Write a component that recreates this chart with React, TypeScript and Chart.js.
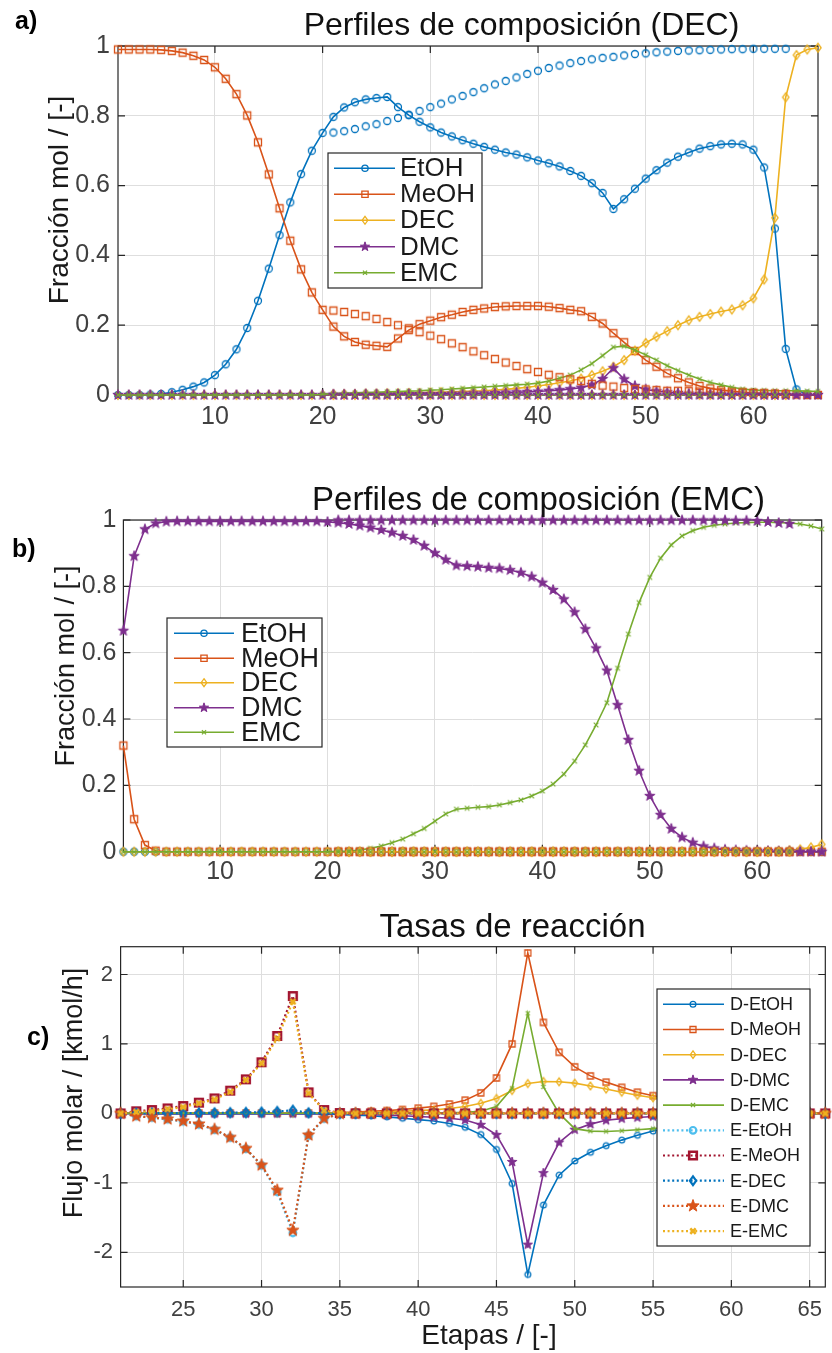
import React, { useEffect, useRef } from 'react';
import { Chart, registerables } from 'chart.js';

Chart.register(...registerables);

const FONT = '"Liberation Sans", Arial, Helvetica, sans-serif';
const PAGE_W = 832;
const PAGE_H = 1353;

const C_BLUE = '#0072BD';
const C_ORANGE = '#D95319';
const C_YELLOW = '#EDB120';
const C_PURPLE = '#7E2F8E';
const C_GREEN = '#77AC30';
const C_LIGHTBLUE = '#4DBEEE';
const C_DARKRED = '#A2142F';

// ---------------- categories / ticks ----------------
const STAGES = [
  1, 2, 3, 4, 5, 6, 7, 8, 9, 10, 11, 12, 13, 14, 15, 16, 17, 18, 19, 20,
  21, 22, 23, 24, 25, 26, 27, 28, 29, 30, 31, 32, 33, 34, 35, 36, 37, 38, 39, 40,
  41, 42, 43, 44, 45, 46, 47, 48, 49, 50, 51, 52, 53, 54, 55, 56, 57, 58, 59, 60,
  61, 62, 63, 64, 65, 66,
];
const STAGES_SIDE = [
  21, 22, 23, 24, 25, 26, 27, 28, 29, 30, 31, 32, 33, 34, 35, 36, 37, 38, 39, 40,
  41, 42, 43, 44, 45, 46, 47, 48, 49, 50, 51, 52, 53, 54, 55, 56, 57, 58, 59, 60,
  61, 62, 63,
];
const STAGES_RATE = [
  21, 22, 23, 24, 25, 26, 27, 28, 29, 30, 31, 32, 33, 34, 35, 36, 37, 38, 39, 40,
  41, 42, 43, 44, 45, 46, 47, 48, 49, 50, 51, 52, 53, 54, 55, 56, 57, 58, 59, 60,
  61, 62, 63, 64, 65, 66,
];
const COMPONENTS = ['EtOH', 'MeOH', 'DEC', 'DMC', 'EMC'];
const RATE_LABELS = ['D-EtOH', 'D-MeOH', 'D-DEC', 'D-DMC', 'D-EMC', 'E-EtOH', 'E-MeOH', 'E-DEC', 'E-DMC', 'E-EMC'];
const X_TICKS_AB = [10, 20, 30, 40, 50, 60];
const Y_TICKS_AB = [0, 0.2, 0.4, 0.6, 0.8, 1];
const X_TICKS_C = [25, 30, 35, 40, 45, 50, 55, 60, 65];
const Y_TICKS_C = [-2, -1, 0, 1, 2];

// ---------------- panel a: DEC column ----------------
const A_ETOH = [
  0, 0, 0, 0.001, 0.003, 0.008, 0.015, 0.024, 0.036, 0.057,
  0.088, 0.131, 0.192, 0.27, 0.362, 0.458, 0.552, 0.633, 0.7, 0.751,
  0.797, 0.824, 0.839, 0.847, 0.851, 0.854, 0.825, 0.802, 0.783, 0.767,
  0.752, 0.741, 0.73, 0.72, 0.711, 0.703, 0.695, 0.689, 0.681, 0.672,
  0.664, 0.655, 0.642, 0.628, 0.607, 0.579, 0.533, 0.561, 0.591, 0.62,
  0.644, 0.666, 0.683, 0.695, 0.706, 0.713, 0.718, 0.72, 0.718, 0.703,
  0.652, 0.477, 0.132, 0.016, 0.001, 0,
];
const A_MEOH = [
  0.99, 0.99, 0.99, 0.99, 0.989, 0.986, 0.981, 0.972, 0.96, 0.939,
  0.906, 0.862, 0.801, 0.724, 0.632, 0.535, 0.442, 0.36, 0.294, 0.244,
  0.196, 0.168, 0.152, 0.144, 0.141, 0.138, 0.162, 0.186, 0.203, 0.213,
  0.223, 0.23, 0.238, 0.244, 0.248, 0.252, 0.254, 0.255, 0.255, 0.255,
  0.253, 0.249, 0.244, 0.24, 0.224, 0.205, 0.177, 0.151, 0.126, 0.1,
  0.081, 0.062, 0.048, 0.036, 0.026, 0.019, 0.014, 0.011, 0.008, 0.006,
  0.004, 0.003, 0.002, 0.001, 0, 0,
];
const A_DEC = [
  0, 0, 0, 0, 0, 0, 0, 0, 0, 0,
  0, 0, 0, 0, 0, 0, 0, 0, 0, 0,
  0.002, 0.003, 0.003, 0.004, 0.004, 0.005, 0.005, 0.006, 0.006, 0.007,
  0.008, 0.009, 0.01, 0.011, 0.012, 0.014, 0.016, 0.019, 0.022, 0.026,
  0.03, 0.035, 0.04, 0.047, 0.057, 0.068, 0.081, 0.1, 0.127, 0.149,
  0.167, 0.183, 0.2, 0.214, 0.224, 0.232, 0.239, 0.245, 0.257, 0.277,
  0.331, 0.508, 0.853, 0.974, 0.99, 0.995,
];
const A_DMC = [
  0, 0, 0, 0, 0, 0, 0, 0, 0, 0,
  0, 0, 0, 0, 0, 0, 0, 0, 0, 0,
  0.001, 0.001, 0.001, 0.002, 0.002, 0.002, 0.002, 0.003, 0.003, 0.003,
  0.003, 0.004, 0.004, 0.005, 0.005, 0.006, 0.007, 0.008, 0.009, 0.01,
  0.012, 0.014, 0.017, 0.021, 0.029, 0.046, 0.077, 0.045, 0.026, 0.016,
  0.011, 0.008, 0.006, 0.004, 0.003, 0.002, 0.002, 0.001, 0.001, 0.001,
  0.001, 0, 0, 0, 0, 0,
];
const A_EMC = [
  0, 0, 0, 0, 0, 0, 0, 0, 0, 0,
  0, 0, 0, 0, 0, 0, 0, 0, 0, 0.002,
  0.004, 0.005, 0.006, 0.007, 0.008, 0.009, 0.01, 0.011, 0.012, 0.014,
  0.015, 0.017, 0.019, 0.021, 0.023, 0.025, 0.027, 0.029, 0.031, 0.034,
  0.04, 0.048, 0.057, 0.072, 0.09, 0.113, 0.137, 0.14, 0.129, 0.115,
  0.1, 0.084, 0.07, 0.057, 0.046, 0.036, 0.029, 0.022, 0.017, 0.014,
  0.013, 0.012, 0.012, 0.012, 0.011, 0.01,
];
// marker-only profiles (stages 21-63)
const A_ETOH_S = [
  0.752, 0.756, 0.762, 0.77, 0.776, 0.785, 0.794, 0.803, 0.814, 0.825,
  0.835, 0.847, 0.857, 0.868, 0.879, 0.89, 0.9, 0.91, 0.92, 0.929,
  0.937, 0.944, 0.951, 0.957, 0.962, 0.966, 0.969, 0.973, 0.977, 0.979,
  0.982, 0.984, 0.986, 0.987, 0.988, 0.989, 0.99, 0.991, 0.991, 0.992,
  0.992, 0.992, 0.992,
];
const A_MEOH_S = [
  0.242, 0.238, 0.232, 0.226, 0.218, 0.209, 0.2, 0.191, 0.18, 0.17,
  0.16, 0.148, 0.137, 0.125, 0.114, 0.103, 0.093, 0.083, 0.074, 0.066,
  0.058, 0.051, 0.045, 0.04, 0.032, 0.027, 0.024, 0.02, 0.017, 0.016,
  0.014, 0.012, 0.012, 0.011, 0.01, 0.009, 0.008, 0.007, 0.007, 0.006,
  0.005, 0.004, 0.003,
];
const A_DEC_S = [
  0, 0, 0, 0, 0, 0, 0, 0, 0, 0,
  0, 0, 0, 0, 0, 0, 0, 0, 0, 0,
  0, 0, 0, 0, 0, 0, 0, 0, 0, 0,
  0, 0, 0, 0, 0, 0, 0, 0, 0, 0,
  0, 0, 0,
];
const A_DMC_S = [
  0, 0, 0, 0, 0, 0, 0, 0, 0, 0,
  0, 0, 0, 0, 0, 0, 0, 0, 0, 0,
  0, 0, 0, 0, 0, 0, 0, 0, 0, 0,
  0, 0, 0, 0, 0, 0, 0, 0, 0, 0,
  0, 0, 0,
];
const A_EMC_S = [
  0, 0, 0, 0, 0, 0, 0, 0, 0, 0,
  0, 0, 0, 0, 0, 0, 0, 0, 0, 0,
  0, 0, 0, 0, 0, 0, 0, 0, 0, 0,
  0, 0, 0, 0, 0, 0, 0, 0, 0, 0,
  0, 0, 0,
];

// ---------------- panel b: EMC column ----------------
const B_ETOH = [
  0, 0, 0, 0, 0, 0, 0, 0, 0, 0,
  0, 0, 0, 0, 0, 0, 0, 0, 0, 0,
  0, 0, 0, 0, 0, 0, 0, 0, 0, 0,
  0, 0, 0, 0, 0, 0, 0, 0, 0, 0,
  0, 0, 0, 0, 0, 0, 0, 0, 0, 0,
  0, 0, 0, 0, 0, 0, 0, 0, 0, 0,
  0, 0, 0, 0, 0, 0,
];
const B_MEOH = [
  0.32, 0.098, 0.02, 0.003, 0, 0, 0, 0, 0, 0,
  0, 0, 0, 0, 0, 0, 0, 0, 0, 0,
  0, 0, 0, 0, 0, 0, 0, 0, 0, 0,
  0, 0, 0, 0, 0, 0, 0, 0, 0, 0,
  0, 0, 0, 0, 0, 0, 0, 0, 0, 0,
  0, 0, 0, 0, 0, 0, 0, 0, 0, 0,
  0, 0, 0, 0, 0, 0,
];
const B_DEC = [
  0, 0, 0, 0, 0, 0, 0, 0, 0, 0,
  0, 0, 0, 0, 0, 0, 0, 0, 0, 0,
  0, 0, 0, 0, 0, 0, 0, 0, 0, 0,
  0, 0, 0, 0, 0, 0, 0, 0, 0, 0,
  0, 0, 0, 0, 0, 0, 0, 0, 0, 0,
  0, 0, 0, 0, 0, 0, 0, 0, 0, 0,
  0.001, 0.002, 0.004, 0.007, 0.013, 0.022,
];
const B_DMC = [
  0.666, 0.891, 0.972, 0.99, 0.995, 0.996, 0.996, 0.996, 0.996, 0.996,
  0.996, 0.996, 0.996, 0.996, 0.996, 0.996, 0.996, 0.996, 0.996, 0.994,
  0.992, 0.988, 0.983, 0.977, 0.97, 0.962, 0.952, 0.94, 0.922, 0.9,
  0.88, 0.863, 0.861, 0.859, 0.856, 0.854, 0.849, 0.841, 0.829, 0.811,
  0.789, 0.761, 0.722, 0.671, 0.613, 0.546, 0.442, 0.337, 0.244, 0.168,
  0.111, 0.069, 0.043, 0.027, 0.016, 0.01, 0.006, 0.004, 0.003, 0.002,
  0.002, 0.001, 0.001, 0, 0, 0,
];
const B_EMC = [
  0, 0, 0, 0, 0, 0, 0, 0, 0, 0,
  0, 0, 0, 0, 0, 0, 0, 0, 0, 0,
  0.001, 0.002, 0.005, 0.01, 0.017, 0.027, 0.038, 0.054, 0.07, 0.092,
  0.114, 0.128, 0.131, 0.134, 0.136, 0.141, 0.148, 0.156, 0.168, 0.183,
  0.204, 0.234, 0.273, 0.322, 0.382, 0.449, 0.553, 0.656, 0.751, 0.827,
  0.885, 0.925, 0.952, 0.968, 0.978, 0.984, 0.988, 0.991, 0.992, 0.993,
  0.993, 0.992, 0.991, 0.988, 0.982, 0.973,
];
const B_ETOH_S = [
  0, 0, 0, 0, 0, 0, 0, 0, 0, 0,
  0, 0, 0, 0, 0, 0, 0, 0, 0, 0,
  0, 0, 0, 0, 0, 0, 0, 0, 0, 0,
  0, 0, 0, 0, 0, 0, 0, 0, 0, 0,
  0, 0, 0,
];
const B_MEOH_S = [
  0, 0, 0, 0, 0, 0, 0, 0, 0, 0,
  0, 0, 0, 0, 0, 0, 0, 0, 0, 0,
  0, 0, 0, 0, 0, 0, 0, 0, 0, 0,
  0, 0, 0, 0, 0, 0, 0, 0, 0, 0,
  0, 0, 0,
];
const B_DEC_S = [
  0, 0, 0, 0, 0, 0, 0, 0, 0, 0,
  0, 0, 0, 0, 0, 0, 0, 0, 0, 0,
  0, 0, 0, 0, 0, 0, 0, 0, 0, 0,
  0, 0, 0, 0, 0, 0, 0, 0, 0, 0,
  0, 0, 0,
];
const B_DMC_S = [
  0.999, 0.999, 0.999, 0.999, 0.999, 0.999, 0.999, 0.999, 0.999, 0.999,
  0.999, 0.999, 0.999, 0.999, 0.999, 0.999, 0.999, 0.999, 0.999, 0.999,
  0.999, 0.999, 0.999, 0.999, 0.999, 0.999, 0.999, 0.999, 0.999, 0.999,
  0.999, 0.999, 0.999, 0.999, 0.999, 0.999, 0.999, 0.998, 0.998, 0.997,
  0.994, 0.991, 0.988,
];
const B_EMC_S = [
  0, 0, 0, 0, 0, 0, 0, 0, 0, 0,
  0, 0, 0, 0, 0, 0, 0, 0, 0, 0,
  0, 0, 0, 0, 0, 0, 0, 0, 0, 0,
  0, 0, 0, 0, 0, 0, 0, 0, 0, 0,
  0, 0, 0,
];

// ---------------- panel c: reaction rates (stages 21-66) ----------------
const C_D_ETOH = [
  0, -0.005, -0.008, -0.01, -0.01, -0.01, -0.01, -0.01, -0.01, -0.01,
  -0.01, -0.01, -0.01, -0.01, -0.015, -0.025, -0.035, -0.05, -0.07, -0.09,
  -0.11, -0.145, -0.2, -0.305, -0.52, -1.01, -2.32, -1.32, -0.89, -0.685,
  -0.56, -0.465, -0.385, -0.315, -0.255, -0.21, -0.17, -0.135, -0.1, -0.07,
  -0.045, -0.025, -0.01, 0, 0, 0,
];
const C_D_MEOH = [
  0, 0.005, 0.005, 0.005, 0.005, 0.005, 0.005, 0.005, 0.005, 0.005,
  0.005, 0.005, 0.005, 0.005, 0.015, 0.02, 0.03, 0.04, 0.055, 0.075,
  0.1, 0.135, 0.19, 0.295, 0.51, 1.0, 2.31, 1.31, 0.88, 0.67,
  0.54, 0.45, 0.375, 0.305, 0.255, 0.21, 0.17, 0.135, 0.1, 0.07,
  0.045, 0.025, 0.01, 0, 0, 0,
];
const C_D_DEC = [
  0, 0.003, 0.003, 0.003, 0.003, 0.003, 0.003, 0.003, 0.003, 0.003,
  0.003, 0.003, 0.003, 0.003, 0.005, 0.01, 0.015, 0.02, 0.03, 0.04,
  0.05, 0.07, 0.1, 0.145, 0.215, 0.33, 0.43, 0.46, 0.455, 0.435,
  0.395, 0.35, 0.305, 0.26, 0.225, 0.19, 0.155, 0.125, 0.095, 0.07,
  0.045, 0.025, 0.01, 0, 0, 0,
];
const C_D_DMC = [
  0, -0.003, -0.003, -0.003, -0.003, -0.003, -0.003, -0.003, -0.003, -0.003,
  -0.003, -0.003, -0.003, -0.003, -0.005, -0.01, -0.015, -0.025, -0.035, -0.045,
  -0.055, -0.07, -0.095, -0.165, -0.31, -0.7, -1.89, -0.86, -0.42, -0.235,
  -0.155, -0.1, -0.075, -0.06, -0.045, -0.035, -0.028, -0.02, -0.015, -0.01,
  -0.007, -0.004, -0.002, 0, 0, 0,
];
const C_D_EMC = [
  0, 0.002, 0.002, 0.002, 0.002, 0.002, 0.002, 0.002, 0.002, 0.002,
  0.002, 0.002, 0.002, 0.002, 0.002, 0.003, 0.004, 0.005, 0.006, 0.007,
  0.008, 0.01, 0.015, 0.03, 0.1, 0.36, 1.44, 0.38, 0, -0.22,
  -0.255, -0.26, -0.25, -0.235, -0.22, -0.2, -0.17, -0.14, -0.11, -0.08,
  -0.05, -0.03, -0.01, 0, 0, 0,
];
const C_E_ETOH = [
  0, -0.04, -0.06, -0.085, -0.115, -0.16, -0.235, -0.35, -0.51, -0.75,
  -1.13, -1.72, -0.32, -0.075, -0.01, 0, 0, 0, 0, 0,
  0, 0, 0, 0, 0, 0, 0, 0, 0, 0,
  0, 0, 0, 0, 0, 0, 0, 0, 0, 0,
  0, 0, 0, 0, 0, 0,
];
const C_E_MEOH = [
  0, 0.03, 0.048, 0.072, 0.106, 0.154, 0.216, 0.327, 0.49, 0.736,
  1.115, 1.69, 0.303, 0.048, 0.005, 0, 0, 0, 0, 0,
  0, 0, 0, 0, 0, 0, 0, 0, 0, 0,
  0, 0, 0, 0, 0, 0, 0, 0, 0, 0,
  0, 0, 0, 0, 0, 0,
];
const C_E_DEC = [
  0, 0.002, 0.003, 0.004, 0.005, 0.006, 0.008, 0.01, 0.013, 0.018,
  0.027, 0.045, 0.008, 0.002, 0, 0, 0, 0, 0, 0,
  0, 0, 0, 0, 0, 0, 0, 0, 0, 0,
  0, 0, 0, 0, 0, 0, 0, 0, 0, 0,
  0, 0, 0, 0, 0, 0,
];
const C_E_DMC = [
  0, -0.04, -0.06, -0.082, -0.111, -0.154, -0.231, -0.346, -0.505, -0.746,
  -1.107, -1.684, -0.313, -0.072, -0.005, 0, 0, 0, 0, 0,
  0, 0, 0, 0, 0, 0, 0, 0, 0, 0,
  0, 0, 0, 0, 0, 0, 0, 0, 0, 0,
  0, 0, 0, 0, 0, 0,
];
const C_E_EMC = [
  0, 0.02, 0.03, 0.06, 0.09, 0.145, 0.2, 0.31, 0.48, 0.72,
  1.08, 1.61, 0.29, 0.04, 0.005, 0, 0, 0, 0, 0,
  0, 0, 0, 0, 0, 0, 0, 0, 0, 0,
  0, 0, 0, 0, 0, 0, 0, 0, 0, 0,
  0, 0, 0, 0, 0, 0,
];

// ---------------- styling types ----------------
type MKind = 'o' | 's' | 'd' | 'p' | 'x';
type MSpec = { kind: MKind; size: number; lw: number; fill: boolean };
type LineKind = 'solid' | 'dot' | 'none';
type SeriesDef = {
  label: string;
  xs: number[];
  ys: number[];
  color: string;
  marker: MSpec;
  line: LineKind;
  lw: number;
  inLegend: boolean;
};
type TextDef = { text: string; x: number; y: number; size: number };
type LegendDef = {
  box: [number, number, number, number];
  rows: number[];
  line: [number, number];
  markerX: number;
  textX: number;
  font: number;
  markerScale: number;
};
type Panel = {
  key: string;
  canvasTop: number;
  canvasH: number;
  area: { l: number; r: number; t: number; b: number };
  xMin: number;
  xMax: number;
  yMin: number;
  yMax: number;
  xTicks: number[];
  yTicks: number[];
  yFmt: (v: number) => string;
  tickFont: number;
  xPad: number;
  yPad: number;
  title: TextDef;
  yLabel: TextDef;
  xLabel?: TextDef;
  tag: TextDef;
  series: SeriesDef[];
  legend: LegendDef;
};

const DOT = [2, 2.6];

const M_AB: MSpec[] = [
  { kind: 'o', size: 3.5, lw: 1.3, fill: false },
  { kind: 's', size: 3.5, lw: 1.3, fill: false },
  { kind: 'd', size: 4.4, lw: 1.3, fill: false },
  { kind: 'p', size: 5.4, lw: 1, fill: true },
  { kind: 'x', size: 2.3, lw: 1.2, fill: false },
];
const M_CD: MSpec[] = [
  { kind: 'o', size: 2.9, lw: 1.3, fill: false },
  { kind: 's', size: 3.0, lw: 1.3, fill: false },
  { kind: 'd', size: 3.8, lw: 1.3, fill: false },
  { kind: 'p', size: 5.0, lw: 1, fill: true },
  { kind: 'x', size: 2.1, lw: 1.2, fill: false },
];
const M_CE: MSpec[] = [
  { kind: 'o', size: 3.3, lw: 2.2, fill: false },
  { kind: 's', size: 3.8, lw: 2.6, fill: false },
  { kind: 'd', size: 4.4, lw: 2.2, fill: false },
  { kind: 'p', size: 6.4, lw: 1, fill: true },
  { kind: 'x', size: 2.7, lw: 2.6, fill: false },
];

const COLORS_AB = [C_BLUE, C_ORANGE, C_YELLOW, C_PURPLE, C_GREEN];
const COLORS_E = [C_LIGHTBLUE, C_DARKRED, C_BLUE, C_ORANGE, C_YELLOW];

function buildProfileSeries(solid: number[][], side: number[][]): SeriesDef[] {
  const out: SeriesDef[] = [];
  solid.forEach((ys, i) =>
    out.push({ label: COMPONENTS[i], xs: STAGES, ys, color: COLORS_AB[i], marker: M_AB[i], line: 'solid', lw: 1.6, inLegend: true })
  );
  side.forEach((ys, i) =>
    out.push({ label: COMPONENTS[i] + ' (2)', xs: STAGES_SIDE, ys, color: COLORS_AB[i], marker: M_AB[i], line: 'none', lw: 1.6, inLegend: false })
  );
  return out;
}

function buildRateSeries(): SeriesDef[] {
  const dVals = [C_D_ETOH, C_D_MEOH, C_D_DEC, C_D_DMC, C_D_EMC];
  const eVals = [C_E_ETOH, C_E_MEOH, C_E_DEC, C_E_DMC, C_E_EMC];
  const out: SeriesDef[] = [];
  dVals.forEach((ys, i) =>
    out.push({ label: RATE_LABELS[i], xs: STAGES_RATE, ys, color: COLORS_AB[i], marker: M_CD[i], line: 'solid', lw: 1.6, inLegend: true })
  );
  eVals.forEach((ys, i) =>
    out.push({ label: RATE_LABELS[5 + i], xs: STAGES_RATE, ys, color: COLORS_E[i], marker: M_CE[i], line: 'dot', lw: 2.2, inLegend: true })
  );
  return out;
}

const fmtFrac = (v: number) => (v === 0 ? '0' : v === 1 ? '1' : v.toFixed(1));

const PANELS: Panel[] = [
  {
    key: 'a',
    canvasTop: 0,
    canvasH: 460,
    area: { l: 118, r: 818, t: 46, b: 395 },
    xMin: 1, xMax: 66, yMin: 0, yMax: 1,
    xTicks: X_TICKS_AB, yTicks: Y_TICKS_AB, yFmt: fmtFrac,
    tickFont: 25, xPad: 7, yPad: 8,
    title: { text: 'Perfiles de composición (DEC)', x: 521.5, y: 35, size: 32 },
    yLabel: { text: 'Fracción mol / [-]', x: 68, y: 200, size: 28 },
    tag: { text: 'a)', x: 15, y: 29, size: 25 },
    series: buildProfileSeries([A_ETOH, A_MEOH, A_DEC, A_DMC, A_EMC], [A_ETOH_S, A_MEOH_S, A_DEC_S, A_DMC_S, A_EMC_S]),
    legend: {
      box: [328, 153, 154, 135],
      rows: [168.3, 194.3, 220.3, 246.7, 272.7],
      line: [334, 395], markerX: 365, textX: 400, font: 26, markerScale: 0.9,
    },
  },
  {
    key: 'b',
    canvasTop: 470,
    canvasH: 420,
    area: { l: 123.4, r: 821.7, t: 520, b: 851.7 },
    xMin: 1, xMax: 66, yMin: 0, yMax: 1,
    xTicks: X_TICKS_AB, yTicks: Y_TICKS_AB, yFmt: fmtFrac,
    tickFont: 25, xPad: 5, yPad: 7,
    title: { text: 'Perfiles de composición (EMC)', x: 538.5, y: 510, size: 33 },
    yLabel: { text: 'Fracción mol / [-]', x: 73.5, y: 666, size: 27 },
    tag: { text: 'b)', x: 12, y: 557, size: 25 },
    series: buildProfileSeries([B_ETOH, B_MEOH, B_DEC, B_DMC, B_EMC], [B_ETOH_S, B_MEOH_S, B_DEC_S, B_DMC_S, B_EMC_S]),
    legend: {
      box: [167, 618, 155, 129],
      rows: [633.3, 658.3, 682.7, 707.7, 732.3],
      line: [174, 234], markerX: 204, textX: 241, font: 27, markerScale: 0.9,
    },
  },
  {
    key: 'c',
    canvasTop: 890,
    canvasH: 463,
    area: { l: 120.6, r: 830, t: 946.7, b: 1287 },
    xMin: 21, xMax: 66, yMin: -2.5, yMax: 2.4,
    xTicks: X_TICKS_C, yTicks: Y_TICKS_C, yFmt: (v: number) => String(v),
    tickFont: 22, xPad: 10, yPad: 7.5,
    title: { text: 'Tasas de reacción', x: 512.5, y: 937, size: 33 },
    yLabel: { text: 'Flujo molar / [kmol/h]', x: 81.5, y: 1093, size: 27 },
    xLabel: { text: 'Etapas / [-]', x: 489, y: 1344, size: 28 },
    tag: { text: 'c)', x: 27, y: 1045, size: 25 },
    series: buildRateSeries(),
    legend: {
      box: [657, 989, 153, 257],
      rows: [1004.3, 1029.5, 1054.7, 1079.9, 1105.1, 1130.3, 1155.5, 1180.7, 1205.9, 1231.1],
      line: [663, 724], markerX: 693, textX: 730, font: 18, markerScale: 1,
    },
  },
];

// ---------------- drawing helpers ----------------
function drawMarker(ctx: CanvasRenderingContext2D, m: MSpec, x: number, y: number, color: string, scale = 1) {
  const s = m.size * scale;
  ctx.save();
  ctx.strokeStyle = color;
  ctx.fillStyle = color;
  ctx.lineWidth = m.lw;
  ctx.setLineDash([]);
  ctx.lineJoin = m.kind === 'p' ? 'round' : 'miter';
  ctx.beginPath();
  if (m.kind === 'o') {
    ctx.arc(x, y, s, 0, Math.PI * 2);
  } else if (m.kind === 's') {
    ctx.rect(x - s, y - s, 2 * s, 2 * s);
  } else if (m.kind === 'd') {
    ctx.moveTo(x, y - s);
    ctx.lineTo(x + s * 0.72, y);
    ctx.lineTo(x, y + s);
    ctx.lineTo(x - s * 0.72, y);
    ctx.closePath();
  } else if (m.kind === 'p') {
    for (let k = 0; k < 10; k++) {
      const r = k % 2 === 0 ? s : s * 0.4;
      const a = -Math.PI / 2 + (k * Math.PI) / 5;
      const px = x + r * Math.cos(a);
      const py = y + r * Math.sin(a);
      if (k === 0) ctx.moveTo(px, py);
      else ctx.lineTo(px, py);
    }
    ctx.closePath();
  } else {
    ctx.moveTo(x - s, y - s);
    ctx.lineTo(x + s, y + s);
    ctx.moveTo(x + s, y - s);
    ctx.lineTo(x - s, y + s);
  }
  if (m.fill) ctx.fill();
  ctx.stroke();
  ctx.restore();
}

function makeMarkerCanvas(m: MSpec, color: string): HTMLCanvasElement {
  const half = Math.ceil(m.size + m.lw + 1);
  const c = document.createElement('canvas');
  c.width = half * 2;
  c.height = half * 2;
  const ctx = c.getContext('2d')!;
  drawMarker(ctx, m, half, half, color, 1);
  return c;
}

function drawLabel(ctx: CanvasRenderingContext2D, t: TextDef, oy: number, opts: { bold?: boolean; align?: CanvasTextAlign; color?: string; rotate?: boolean }) {
  ctx.save();
  ctx.font = `${opts.bold ? 'bold ' : ''}${t.size}px ${FONT}`;
  ctx.fillStyle = opts.color || '#1a1a1a';
  ctx.textAlign = opts.align || 'center';
  ctx.textBaseline = 'alphabetic';
  if (opts.rotate) {
    ctx.translate(t.x, t.y - oy);
    ctx.rotate(-Math.PI / 2);
    ctx.fillText(t.text, 0, 0);
  } else {
    ctx.fillText(t.text, t.x, t.y - oy);
  }
  ctx.restore();
}

function decorPlugin(p: Panel) {
  const oy = p.canvasTop;
  return {
    id: 'decor_' + p.key,
    beforeDatasetsDraw(chart: any) {
      const ctx: CanvasRenderingContext2D = chart.ctx;
      const ca = chart.chartArea;
      const xs = chart.scales.x;
      const ys = chart.scales.y;
      const tl = 7;
      ctx.save();
      ctx.strokeStyle = '#262626';
      ctx.lineWidth = 1.2;
      ctx.strokeRect(ca.left, ca.top, ca.right - ca.left, ca.bottom - ca.top);
      ctx.beginPath();
      p.xTicks.forEach((v) => {
        const px = xs.getPixelForValue(v);
        ctx.moveTo(px, ca.bottom);
        ctx.lineTo(px, ca.bottom - tl);
        ctx.moveTo(px, ca.top);
        ctx.lineTo(px, ca.top + tl);
      });
      p.yTicks.forEach((v) => {
        const py = ys.getPixelForValue(v);
        ctx.moveTo(ca.left, py);
        ctx.lineTo(ca.left + tl, py);
        ctx.moveTo(ca.right, py);
        ctx.lineTo(ca.right - tl, py);
      });
      ctx.stroke();
      ctx.restore();
    },
    afterDatasetsDraw(chart: any) {
      const ctx: CanvasRenderingContext2D = chart.ctx;
      const L = p.legend;
      ctx.save();
      ctx.fillStyle = '#ffffff';
      ctx.fillRect(L.box[0], L.box[1] - oy, L.box[2], L.box[3]);
      ctx.strokeStyle = '#262626';
      ctx.lineWidth = 1.2;
      ctx.strokeRect(L.box[0], L.box[1] - oy, L.box[2], L.box[3]);
      const entries = p.series.filter((s) => s.inLegend);
      entries.forEach((s, i) => {
        const y = L.rows[i] - oy;
        ctx.strokeStyle = s.color;
        ctx.lineWidth = s.lw;
        ctx.setLineDash(s.line === 'dot' ? DOT : []);
        ctx.beginPath();
        ctx.moveTo(L.line[0], y);
        ctx.lineTo(L.line[1], y);
        ctx.stroke();
        ctx.setLineDash([]);
        drawMarker(ctx, s.marker, L.markerX, y, s.color, L.markerScale);
        ctx.fillStyle = '#1a1a1a';
        ctx.font = `${L.font}px ${FONT}`;
        ctx.textAlign = 'left';
        ctx.textBaseline = 'middle';
        ctx.fillText(s.label, L.textX, y + 1);
      });
      ctx.restore();
    },
    afterDraw(chart: any) {
      const ctx: CanvasRenderingContext2D = chart.ctx;
      drawLabel(ctx, p.title, oy, { color: '#111111' });
      drawLabel(ctx, p.yLabel, oy, { rotate: true, color: '#1a1a1a' });
      if (p.xLabel) drawLabel(ctx, p.xLabel, oy, { color: '#1a1a1a' });
      drawLabel(ctx, p.tag, oy, { bold: true, align: 'left', color: '#000000' });
    },
  };
}

function buildConfig(p: Panel): any {
  const n = p.series.length;
  const datasets = p.series.map((s, i) => ({
    label: s.label,
    data: s.xs.map((x, k) => ({ x, y: s.ys[k] })),
    borderColor: s.color,
    backgroundColor: s.color,
    borderWidth: s.lw,
    borderDash: s.line === 'dot' ? DOT : [],
    showLine: s.line !== 'none',
    pointStyle: makeMarkerCanvas(s.marker, s.color),
    pointRadius: 3,
    pointHoverRadius: 3,
    tension: 0,
    clip: false,
    order: n - i,
  }));
  const xAxisH = p.canvasH - (p.area.b - p.canvasTop);
  return {
    type: 'line',
    data: { datasets },
    options: {
      animation: false,
      responsive: false,
      devicePixelRatio: 1,
      events: [],
      layout: { padding: { left: 0, right: PAGE_W - p.area.r, top: p.area.t - p.canvasTop, bottom: 0 } },
      plugins: { legend: { display: false }, tooltip: { enabled: false }, title: { display: false } },
      scales: {
        x: {
          type: 'linear',
          min: p.xMin,
          max: p.xMax,
          afterBuildTicks: (s: any) => {
            s.ticks = p.xTicks.map((v) => ({ value: v }));
          },
          afterFit: (s: any) => {
            s.height = xAxisH;
          },
          grid: { color: '#dedede', lineWidth: 1, drawTicks: false },
          border: { display: false },
          ticks: {
            autoSkip: false,
            maxRotation: 0,
            padding: p.xPad,
            color: '#404040',
            font: { family: FONT, size: p.tickFont },
            callback: (v: number) => String(v),
          },
        },
        y: {
          type: 'linear',
          min: p.yMin,
          max: p.yMax,
          afterBuildTicks: (s: any) => {
            s.ticks = p.yTicks.map((v) => ({ value: v }));
          },
          afterFit: (s: any) => {
            s.width = p.area.l;
          },
          grid: { color: '#dedede', lineWidth: 1, drawTicks: false },
          border: { display: false },
          ticks: {
            autoSkip: false,
            padding: p.yPad,
            color: '#404040',
            font: { family: FONT, size: p.tickFont },
            callback: (v: number) => p.yFmt(v),
          },
        },
      },
    },
    plugins: [decorPlugin(p)],
  };
}

function PanelChart({ panel }: { panel: Panel }) {
  const ref = useRef<HTMLCanvasElement>(null);
  useEffect(() => {
    if (!ref.current) return;
    const chart = new Chart(ref.current, buildConfig(panel));
    return () => chart.destroy();
  }, [panel]);
  return (
    <canvas
      ref={ref}
      width={PAGE_W}
      height={panel.canvasH}
      style={{ position: 'absolute', left: 0, top: panel.canvasTop, width: PAGE_W, height: panel.canvasH, display: 'block' }}
    />
  );
}

export default function App() {
  return (
    <div style={{ position: 'absolute', left: 0, top: 0, width: PAGE_W, height: PAGE_H, background: '#ffffff', overflow: 'hidden' }}>
      {PANELS.map((p) => (
        <PanelChart key={p.key} panel={p} />
      ))}
    </div>
  );
}
